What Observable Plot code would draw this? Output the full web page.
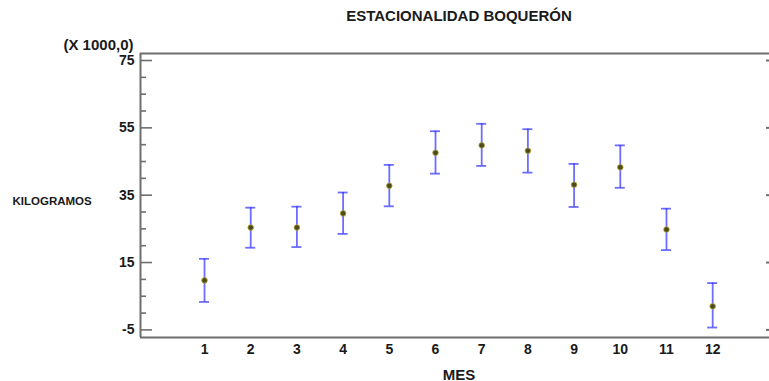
<!DOCTYPE html>
<html>
<head>
<meta charset="utf-8">
<script src="https://cdn.jsdelivr.net/npm/d3@7"></script>
<script src="https://cdn.jsdelivr.net/npm/@observablehq/plot@0.6"></script>
<style>
  html, body { margin: 0; padding: 0; background: #fff; }
  #chart { width: 769px; height: 381px; overflow: hidden; }
</style>
</head>
<body>
<div id="chart"></div>
<script>
const title = "ESTACIONALIDAD BOQUERÓN";
const yUnitsLabel = "(X 1000,0)";
const yLabel = "KILOGRAMOS";
const xLabel = "MES";

const mes   = [1, 2, 3, 4, 5, 6, 7, 8, 9, 10, 11, 12];
const media = [9.7, 25.4, 25.4, 29.6, 37.8, 47.6, 49.8, 48.2, 38.1, 43.3, 24.8, 2.0];
const lower = [3.3, 19.4, 19.6, 23.5, 31.7, 41.4, 43.7, 41.7, 31.5, 37.2, 18.7, -4.3];
const upper = [16.1, 31.3, 31.6, 35.8, 44.0, 54.0, 56.2, 54.6, 44.3, 49.8, 31.0, 8.9];

const yMajorTicks = [-5, 15, 35, 55, 75];
const yMinorTicks = [0, 5, 10, 20, 25, 30, 40, 45, 50, 60, 65, 70];
const xTicks = mes;

const xDomain = [-0.386, 13.23];
const yDomain = [-7.26, 77.08];

const data = mes.map((m, i) => ({mes: m, media: media[i], lower: lower[i], upper: upper[i]}));

const font = "'Liberation Sans', Arial, sans-serif";
const frameColor = "#6f6f6f";
const barColor = "rgba(40,40,255,0.68)";

const chart = Plot.plot({
  width: 769,
  height: 381,
  marginLeft: 140,
  marginRight: 0,
  marginTop: 53,
  marginBottom: 44,
  style: {fontFamily: font, background: "#fff", color: "#1a1a1a"},
  x: {domain: xDomain},
  y: {domain: yDomain},
  marks: [
    // frame lines (left, top, bottom)
    Plot.ruleX([xDomain[0]], {stroke: frameColor, strokeWidth: 2}),
    Plot.ruleY([yDomain[1]], {stroke: frameColor, strokeWidth: 2}),
    Plot.ruleY([yDomain[0]], {stroke: frameColor, strokeWidth: 2}),
    // left axis: minor and major inward ticks
    Plot.axisY(yMinorTicks, {anchor: "left", tickSize: -6, text: null, stroke: frameColor, strokeWidth: 1.6}),
    Plot.axisY(yMajorTicks, {anchor: "left", tickSize: -12, text: null, stroke: frameColor, strokeWidth: 1.6}),
    Plot.axisY(yMajorTicks, {anchor: "left", tickSize: 0, tickPadding: 6, tickFormat: d => String(d), fontSize: 14, fontWeight: "bold", fill: "#1a1a1a", label: null}),
    // right axis: short inward major ticks
    Plot.axisY(yMajorTicks, {anchor: "right", tickSize: -4, text: null, stroke: frameColor, strokeWidth: 2}),
    // x axis labels
    Plot.axisX(xTicks, {anchor: "bottom", tickSize: 0, tickPadding: 7, tickFormat: d => String(d), fontSize: 14, fontWeight: "bold", fill: "#1a1a1a", label: null}),
    // error bars
    Plot.ruleX(data, {x: "mes", y1: "lower", y2: "upper", stroke: barColor, strokeWidth: 1.8}),
    Plot.ruleY(data, {y: "lower", x1: "mes", x2: "mes", insetLeft: -5, insetRight: -5, stroke: barColor, strokeWidth: 1.8}),
    Plot.ruleY(data, {y: "upper", x1: "mes", x2: "mes", insetLeft: -5, insetRight: -5, stroke: barColor, strokeWidth: 1.8}),
    // means
    Plot.dot(data, {x: "mes", y: "media", r: 2.8, fill: "#4d4b1c", stroke: "#b2a83a", strokeWidth: 0.8}),
    // texts
    Plot.text([title], {frameAnchor: "top", dx: 4, dy: -43, lineAnchor: "top", fontSize: 15, fontWeight: "bold", fill: "#1a1a1a"}),
    Plot.text([yUnitsLabel], {frameAnchor: "top-left", dx: -7, dy: -14, lineAnchor: "top", textAnchor: "end", fontSize: 15, fontWeight: "bold", fill: "#1a1a1a"}),
    Plot.text([yLabel], {frameAnchor: "left", dx: -128, dy: 6, textAnchor: "start", fontSize: 11.5, fontWeight: "bold", fill: "#1a1a1a"}),
    Plot.text([xLabel], {frameAnchor: "bottom", dx: 4, dy: 42, lineAnchor: "bottom", fontSize: 15, fontWeight: "bold", fill: "#1a1a1a"})
  ]
});
document.getElementById("chart").appendChild(chart);
</script>
</body>
</html>
